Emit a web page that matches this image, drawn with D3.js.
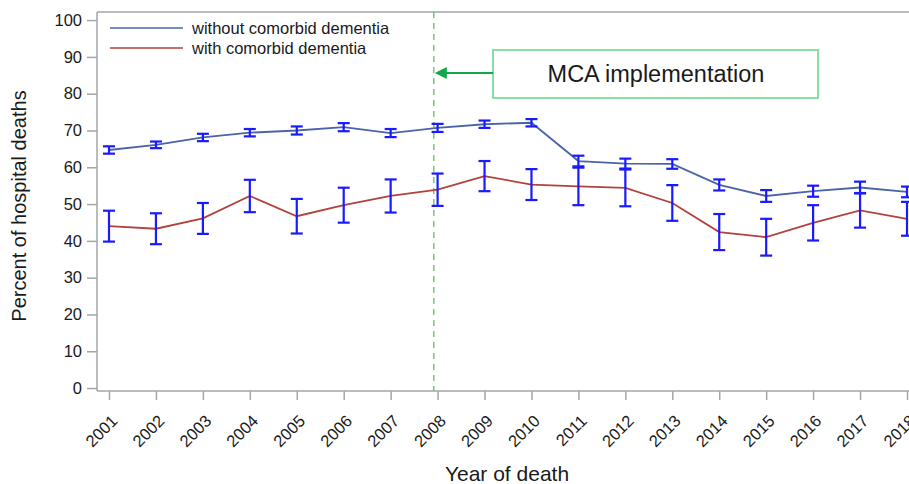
<!DOCTYPE html>
<html>
<head>
<meta charset="utf-8">
<script src="https://cdnjs.cloudflare.com/ajax/libs/d3/7.8.5/d3.min.js"></script>
<style>
  body { margin: 0; background: #fff; }
  text { font-family: "Liberation Sans", Arial, sans-serif; fill: #1a1a1a; }
</style>
</head>
<body>
<div id="chart"></div>
<script>
  var w = 909,
      h = 484;

  // years on the x axis
  var years = [2001, 2002, 2003, 2004, 2005, 2006, 2007, 2008, 2009,
               2010, 2011, 2012, 2013, 2014, 2015, 2016, 2017, 2018];

  // without comorbid dementia: percent and half width of the error bar
  var withoutDem = [64.7, 66.1, 68.1, 69.4, 70.0, 70.9, 69.3, 70.7, 71.7,
                    72.1, 61.7, 61.0, 60.9, 55.2, 52.2, 53.5, 54.5, 53.3];
  var withoutErr = [1.0, 0.9, 1.0, 1.0, 1.1, 1.1, 1.1, 1.1, 1.0,
                    1.0, 1.45, 1.35, 1.3, 1.5, 1.6, 1.5, 1.6, 1.45];

  // with comorbid dementia
  var withDem = [44.0, 43.3, 46.1, 52.2, 46.7, 49.7, 52.2, 53.9, 57.6,
                 55.3, 54.8, 54.4, 50.3, 42.4, 41.0, 44.9, 48.3, 46.0];
  var withErr = [4.2, 4.2, 4.2, 4.4, 4.7, 4.75, 4.5, 4.4, 4.1,
                 4.2, 5.1, 5.0, 4.85, 4.9, 5.0, 4.8, 4.7, 4.6];

  var yTicks = [0, 10, 20, 30, 40, 50, 60, 70, 80, 90, 100];
  var seriesNames = ["without comorbid dementia", "with comorbid dementia"];
  var mcaYear = 2007.92;
  var noteText = "MCA implementation";

  var plotLeft = 97, plotTop = 12, plotBottom = 391;

  var svg = d3.select("#chart").append("svg")
      .attr("width", w)
      .attr("height", h);

  var x = d3.scaleLinear().domain([2001, 2018]).range([109, 907]);
  var y = d3.scaleLinear().domain([-0.8, 102.2]).range([plotBottom, plotTop]);

  var axisCol = "#a3a7ab";

  // frame (top line)
  svg.append("line").attr("x1", plotLeft).attr("x2", w).attr("y1", plotTop).attr("y2", plotTop)
      .attr("stroke", axisCol).attr("stroke-width", 1.5);

  // y axis
  var yAxis = svg.append("g").attr("transform", "translate(" + plotLeft + ",0)")
      .call(d3.axisLeft(y).tickValues(yTicks).tickSize(10).tickPadding(5));
  yAxis.select(".domain").attr("stroke", axisCol).attr("stroke-width", 1.5)
      .attr("d", "M0," + plotTop + "V" + plotBottom);
  yAxis.selectAll(".tick line").attr("stroke", axisCol).attr("stroke-width", 1.5);
  yAxis.selectAll(".tick text").attr("font-size", 16.5).attr("fill", "#1a1a1a")
      .attr("font-family", "Liberation Sans, Arial, sans-serif");

  // x axis
  var xAxis = svg.append("g").attr("transform", "translate(0," + plotBottom + ")")
      .call(d3.axisBottom(x).tickValues(years).tickFormat(d3.format("d")).tickSize(9));
  xAxis.select(".domain").attr("stroke", axisCol).attr("stroke-width", 1.5)
      .attr("d", "M" + plotLeft + ",0H" + w);
  xAxis.selectAll(".tick line").attr("stroke", axisCol).attr("stroke-width", 1.5);
  xAxis.selectAll(".tick text")
      .attr("font-size", 16.5).attr("fill", "#1a1a1a")
      .attr("font-family", "Liberation Sans, Arial, sans-serif")
      .attr("text-anchor", "end")
      .attr("dy", null).attr("y", null)
      .attr("transform", "translate(9,31) rotate(-45)");

  // axis titles
  svg.append("text")
      .attr("transform", "translate(26,206) rotate(-90)")
      .attr("text-anchor", "middle")
      .attr("font-size", 20)
      .text("Percent of hospital deaths");
  svg.append("text")
      .attr("x", 507).attr("y", 481)
      .attr("text-anchor", "middle")
      .attr("font-size", 21)
      .text("Year of death");

  // MCA dashed marker
  svg.append("line")
      .attr("x1", x(mcaYear)).attr("x2", x(mcaYear))
      .attr("y1", plotTop).attr("y2", plotBottom)
      .attr("stroke", "#5cc45c").attr("stroke-width", 1.3)
      .attr("stroke-dasharray", "6,5");

  // lines
  function series(vals, errs) {
    return years.map(function(d, i) { return {year: d, v: vals[i], e: errs[i]}; });
  }
  var data = [
    {name: seriesNames[0], color: "#4a64a8", pts: series(withoutDem, withoutErr)},
    {name: seriesNames[1], color: "#b2423a", pts: series(withDem, withErr)}
  ];

  var line = d3.line()
      .x(function(d) { return x(d.year); })
      .y(function(d) { return y(d.v); });

  data.forEach(function(s) {
    svg.append("path").datum(s.pts)
        .attr("d", line)
        .attr("fill", "none")
        .attr("stroke", s.color)
        .attr("stroke-width", 1.8);
  });

  // error bars
  var barCol = "#1a1aff";
  data.forEach(function(s) {
    var g = svg.append("g");
    var bars = g.selectAll("g").data(s.pts).enter().append("g");
    bars.append("line")
        .attr("x1", function(d) { return x(d.year); })
        .attr("x2", function(d) { return x(d.year); })
        .attr("y1", function(d) { return y(d.v + d.e); })
        .attr("y2", function(d) { return y(d.v - d.e); })
        .attr("stroke", barCol).attr("stroke-width", 2.2);
    [1, -1].forEach(function(sg) {
      bars.append("line")
          .attr("x1", function(d) { return x(d.year) - 6; })
          .attr("x2", function(d) { return x(d.year) + 6; })
          .attr("y1", function(d) { return y(d.v + sg * d.e); })
          .attr("y2", function(d) { return y(d.v + sg * d.e); })
          .attr("stroke", barCol).attr("stroke-width", 2.2);
    });
  });

  // legend
  var leg = svg.append("g");
  data.forEach(function(s, i) {
    leg.append("line")
        .attr("x1", 110).attr("x2", 183)
        .attr("y1", 28 + i * 20).attr("y2", 28 + i * 20)
        .attr("stroke", s.color).attr("stroke-width", 1.5);
    leg.append("text")
        .attr("x", 192).attr("y", 34 + i * 20)
        .attr("font-size", 16.5)
        .text(s.name);
  });

  // annotation box + arrow
  svg.append("rect")
      .attr("x", 493).attr("y", 50).attr("width", 325).attr("height", 48)
      .attr("fill", "#fff").attr("stroke", "#5fd687").attr("stroke-width", 1.5);
  svg.append("text")
      .attr("x", 656).attr("y", 82)
      .attr("text-anchor", "middle")
      .attr("font-family", "Lato, 'Open Sans', sans-serif")
      .attr("font-size", 23.5)
      .text(noteText);
  svg.append("line")
      .attr("x1", 493).attr("x2", 446).attr("y1", 73).attr("y2", 73)
      .attr("stroke", "#12a84a").attr("stroke-width", 2);
  svg.append("path")
      .attr("d", "M" + (x(mcaYear) + 1) + ",73 l12,-6 l0,12 z")
      .attr("fill", "#12a84a");
</script>
</body>
</html>
